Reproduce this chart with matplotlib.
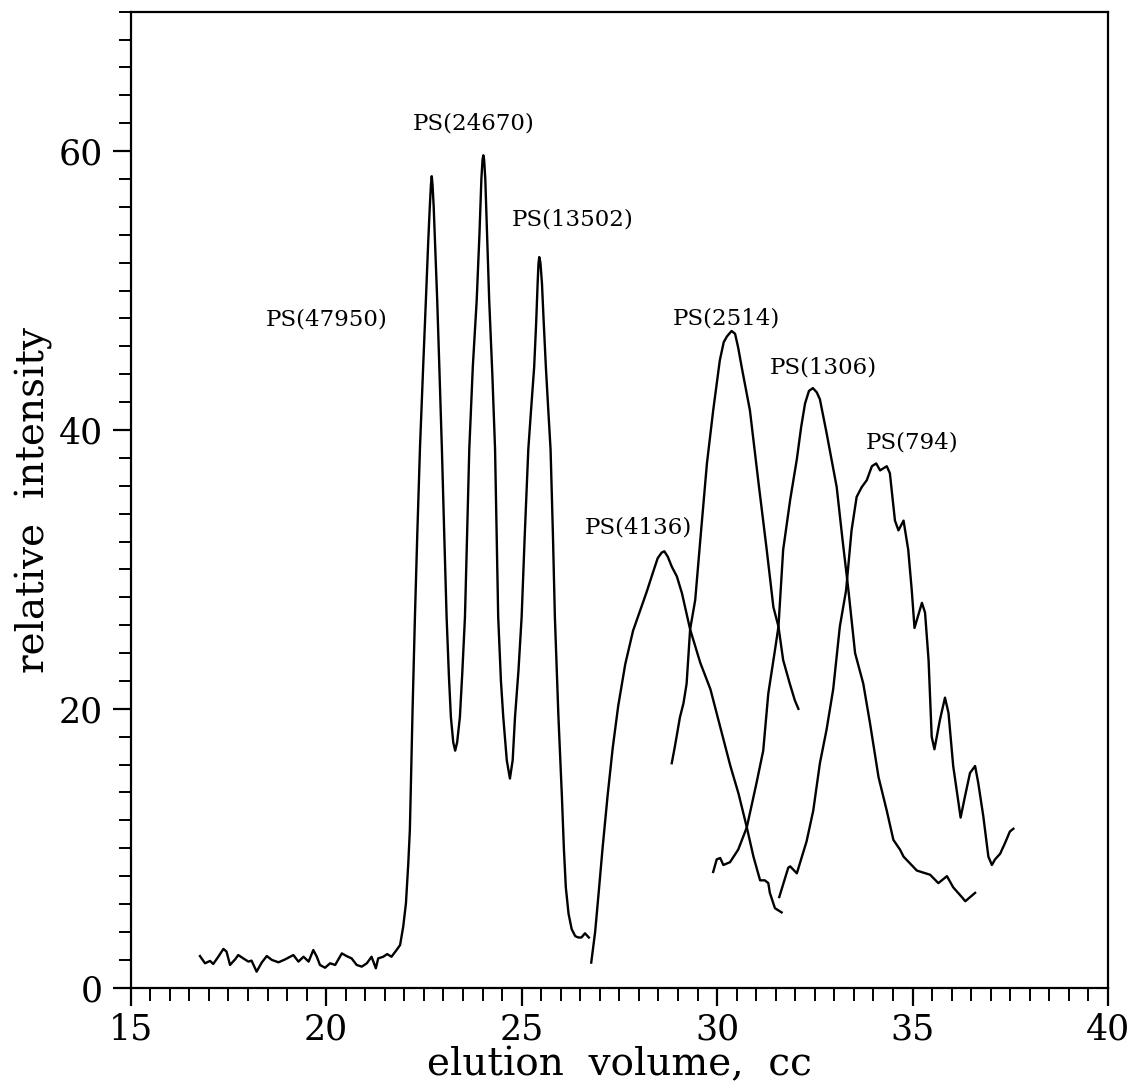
import numpy as np
import matplotlib
matplotlib.use("Agg")
import matplotlib.pyplot as plt
from matplotlib.ticker import MultipleLocator

# PS(47950), PS(24670), PS(13502): one trace with noisy baseline
x_a = [16.77, 16.90, 17.03, 17.11, 17.24, 17.37, 17.45, 17.54, 17.67, 17.75,
       17.88, 18.01, 18.09, 18.22, 18.35, 18.48, 18.61, 18.78, 18.95, 19.16,
       19.29, 19.42, 19.55, 19.67, 19.76, 19.84, 19.97, 20.10, 20.23, 20.40,
       20.52, 20.65, 20.78, 20.91, 21.04, 21.16, 21.27, 21.33, 21.46, 21.56,
       21.67, 21.80, 21.89, 21.97, 22.04, 22.10, 22.14, 22.16, 22.21, 22.27,
       22.33, 22.40, 22.48, 22.55, 22.61, 22.65, 22.68, 22.70, 22.72, 22.75,
       22.79, 22.84, 22.90, 22.96, 23.02, 23.08, 23.14, 23.19, 23.25, 23.30,
       23.35, 23.42, 23.48, 23.55, 23.60, 23.66, 23.75, 23.85, 23.92, 23.97,
       24.00, 24.02, 24.04, 24.07, 24.11, 24.17, 24.25, 24.32, 24.40, 24.47,
       24.53, 24.62, 24.70, 24.77, 24.83, 24.92, 25.00, 25.08, 25.17, 25.25,
       25.32, 25.37, 25.41, 25.43, 25.45, 25.48, 25.52, 25.56, 25.62, 25.68,
       25.74, 25.80, 25.85, 25.94, 26.03, 26.08, 26.13, 26.20, 26.28, 26.37,
       26.45, 26.53, 26.62, 26.72]
y_a = [2.27, 1.75, 1.92, 1.70, 2.22, 2.78, 2.59, 1.63, 2.03, 2.34,
       2.10, 1.87, 1.94, 1.15, 1.80, 2.27, 1.99, 1.82, 2.03, 2.34,
       1.87, 2.22, 1.87, 2.70, 2.22, 1.63, 1.43, 1.75, 1.63, 2.46,
       2.27, 2.10, 1.63, 1.51, 1.75, 2.22, 1.39, 2.10, 2.22, 2.41,
       2.22, 2.70, 3.06, 4.37, 6.05, 8.92, 11.3, 13.7, 20.0, 26.6,
       32.5, 38.8, 44.5, 49.3, 53.5, 56.0, 57.6, 58.2, 57.6, 56.0,
       53.0, 49.3, 44.0, 38.6, 32.5, 26.6, 22.3, 19.4, 17.6, 17.0,
       17.6, 19.4, 22.5, 26.6, 32.0, 38.6, 44.5, 49.3, 54.0, 58.0,
       59.4, 59.7, 59.4, 58.0, 54.5, 49.3, 44.0, 38.6, 26.6, 22.0,
       19.4, 16.3, 15.0, 16.3, 19.4, 22.8, 26.6, 32.5, 38.6, 41.8,
       44.5, 47.6, 50.6, 51.9, 52.4, 52.0, 50.5, 48.0, 44.5, 41.5,
       38.6, 32.5, 26.6, 19.5, 13.7, 10.0, 7.2, 5.3, 4.2, 3.7,
       3.6, 3.6, 3.9, 3.6]

# PS(4136)
x_b = [26.78, 26.88, 26.97, 27.07, 27.20, 27.33, 27.47, 27.65, 27.85, 28.05,
       28.20, 28.35, 28.48, 28.58, 28.65, 28.74, 28.84, 28.97, 29.10, 29.31,
       29.57, 29.83, 30.08, 30.34, 30.55, 30.76, 30.93, 31.10, 31.22, 31.31,
       31.35, 31.48, 31.65]
y_b = [1.8, 4.0, 6.8, 10.0, 13.8, 17.2, 20.2, 23.2, 25.6, 27.2,
       28.4, 29.7, 30.8, 31.2, 31.3, 30.9, 30.2, 29.5, 28.3, 25.7,
       23.3, 21.4, 18.7, 15.9, 13.9, 11.5, 9.4, 7.7, 7.7, 7.5,
       6.8, 5.7, 5.4]

# PS(2514)
x_c = [28.84, 28.92, 29.05, 29.14, 29.22, 29.31, 29.44, 29.57, 29.74, 29.90,
       30.07, 30.17, 30.25, 30.37, 30.46, 30.54, 30.63, 30.84, 31.06, 31.27,
       31.44, 31.57, 31.69, 31.86, 31.99, 32.08]
y_c = [16.1, 17.3, 19.4, 20.4, 21.8, 25.7, 27.8, 32.1, 37.6, 41.4,
       45.0, 46.3, 46.7, 47.1, 46.9, 45.9, 44.5, 41.4, 36.2, 31.4,
       27.3, 25.9, 23.5, 21.8, 20.6, 20.0]

# PS(1306)
x_d = [29.90, 29.99, 30.08, 30.16, 30.33, 30.54, 30.76, 31.01, 31.18, 31.31,
       31.48, 31.57, 31.69, 31.87, 32.04, 32.15, 32.25, 32.35, 32.45, 32.55,
       32.63, 32.80, 33.06, 33.21, 33.36, 33.53, 33.74, 33.91, 34.13, 34.34,
       34.51, 34.68, 34.77, 35.11, 35.45, 35.66, 35.88, 36.04, 36.26, 36.35,
       36.60]
y_d = [8.3, 9.2, 9.3, 8.8, 9.0, 9.9, 11.5, 14.7, 17.0, 21.1,
       24.2, 25.9, 31.4, 35.0, 37.9, 40.2, 41.9, 42.8, 43.0, 42.7,
       42.2, 39.8, 35.9, 32.1, 28.5, 24.0, 21.8, 19.0, 15.1, 12.7,
       10.6, 9.9, 9.4, 8.4, 8.1, 7.5, 8.0, 7.2, 6.5, 6.2,
       6.8]

# PS(794)
x_e = [31.59, 31.82, 31.87, 32.04, 32.29, 32.46, 32.63, 32.80, 32.97, 33.14,
       33.30, 33.44, 33.57, 33.70, 33.83, 33.96, 34.07, 34.17, 34.34, 34.42,
       34.55, 34.64, 34.77, 34.89, 34.98, 35.05, 35.24, 35.32, 35.41, 35.49,
       35.56, 35.70, 35.83, 35.92, 36.04, 36.23, 36.34, 36.47, 36.60, 36.68,
       36.81, 36.94, 37.03, 37.11, 37.24, 37.37, 37.49, 37.58]
y_e = [6.5, 8.6, 8.7, 8.2, 10.5, 12.7, 16.1, 18.5, 21.4, 25.9,
       28.5, 32.8, 35.2, 35.9, 36.4, 37.4, 37.6, 37.1, 37.4, 36.9,
       33.5, 32.8, 33.5, 31.4, 28.5, 25.8, 27.6, 26.9, 23.5, 18.0,
       17.1, 19.2, 20.8, 19.7, 15.9, 12.2, 13.7, 15.4, 15.9, 14.7,
       12.3, 9.4, 8.8, 9.2, 9.6, 10.4, 11.2, 11.4]

labels = ["PS(47950)", "PS(24670)", "PS(13502)", "PS(4136)",
          "PS(2514)", "PS(1306)", "PS(794)"]
label_x = [20.0, 23.78, 26.31, 27.98, 30.25, 32.71, 35.0]
label_y = [47.9, 62.0, 55.1, 33.0, 48.0, 44.5, 39.1]

plt.rcParams['font.family'] = ['DejaVu Serif']

fig = plt.figure(figsize=(11.35, 10.91), dpi=100)
ax = fig.add_axes([0.1152, 0.0947, 0.861, 0.8946])

for xs, ys in [(x_a, y_a), (x_b, y_b), (x_c, y_c), (x_d, y_d), (x_e, y_e)]:
    ax.plot(xs, ys, color='black', linewidth=1.7, solid_joinstyle='round')

for t, tx, ty in zip(labels, label_x, label_y):
    ax.text(tx, ty, t, ha='center', va='center', fontsize=16.5, color='black')

ax.set_xlim(15, 40)
ax.set_ylim(0, 70)
ax.xaxis.set_major_locator(MultipleLocator(5))
ax.xaxis.set_minor_locator(MultipleLocator(0.5))
ax.yaxis.set_major_locator(MultipleLocator(20))
ax.yaxis.set_minor_locator(MultipleLocator(2))
ax.tick_params(which='major', direction='out', length=13, width=1.6,
               labelsize=25, pad=5)
ax.tick_params(which='minor', direction='out', length=9, width=1.4)
ax.tick_params(axis='y', which='major', pad=7)
for s in ax.spines.values():
    s.set_linewidth(1.6)

ax.set_xlabel('elution  volume,  cc', fontsize=28, labelpad=0)
ax.set_ylabel('relative  intensity', fontsize=28, labelpad=4)

fig.savefig('out.png', dpi=100)
